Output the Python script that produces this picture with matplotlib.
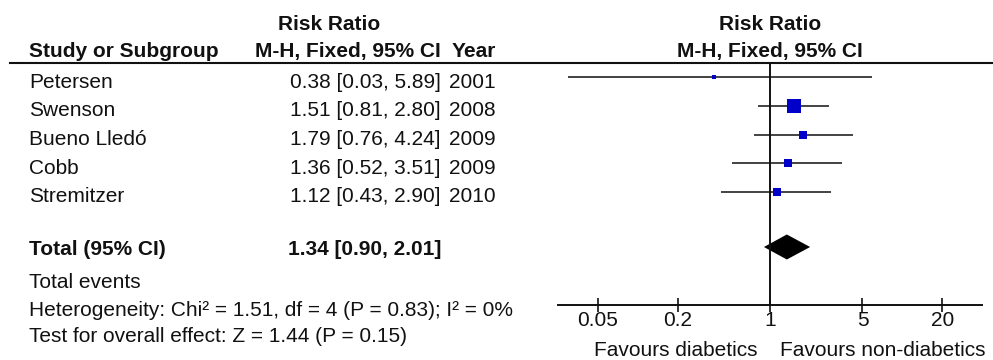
import numpy as np
import matplotlib
matplotlib.use("Agg")
import matplotlib.pyplot as plt
from matplotlib.transforms import blended_transform_factory
from matplotlib.lines import Line2D

# ---- data ----
studies = ["Petersen", "Swenson", "Bueno Lledó", "Cobb", "Stremitzer"]
years = ["2001", "2008", "2009", "2009", "2010"]
rr = [0.38, 1.51, 1.79, 1.36, 1.12]
ci_low = [0.03, 0.81, 0.76, 0.52, 0.43]
ci_high = [5.89, 2.80, 4.24, 3.51, 2.90]
weights = [4, 48, 17, 16, 15]          # relative weights (square sizes)
total_rr = 1.34
total_low = 0.90
total_high = 2.01
tick_values = [0.05, 0.2, 1, 5, 20]
tick_labels = ["0.05", "0.2", "1", "5", "20"]
heterogeneity = "Heterogeneity: Chi² = 1.51, df = 4 (P = 0.83); I² = 0%"
overall = "Test for overall effect: Z = 1.44 (P = 0.15)"

plt.rcParams['font.family'] = ['Liberation Sans', 'DejaVu Sans']
FS = 15
INK = '#111111'
BLUE = '#0000c8'

W, H = 993, 360
fig = plt.figure(figsize=(W / 100, H / 100), dpi=100)
ax = fig.add_axes([558 / W, 0, (982 - 558) / W, 1])
ax.set_xscale('log')
ax.set_xlim(0.025, 40)
ax.set_ylim(H, 0)   # y in pixel rows, top = 0

row_y = 77 + 28.75 * np.arange(len(studies))
total_y = 247
axis_y = 305
line_y = 63

# study CIs and squares
for y, m, lo, hi, w in zip(row_y, rr, ci_low, ci_high, weights):
    ax.plot([lo, hi], [y, y], color=INK, lw=1.1, solid_capstyle='butt')
    side = 2.0 * np.sqrt(w) * 0.72
    ax.plot(m, y, marker='s', ms=side, color=BLUE, mec=BLUE, mew=0)

# pooled diamond
dh = 12.5
ax.fill([total_low, total_rr, total_high, total_rr],
        [total_y, total_y - dh, total_y, total_y + dh], color='black', lw=0)

# line of no effect
ax.plot([1, 1], [line_y, axis_y], color=INK, lw=1.4)

# bottom axis
for s in ['top', 'left', 'right']:
    ax.spines[s].set_visible(False)
ax.spines['bottom'].set_position(('data', axis_y))
ax.spines['bottom'].set_linewidth(1.4)
ax.spines['bottom'].set_color(INK)
ax.set_yticks([])
ax.set_xticks(tick_values)
ax.set_xticklabels(tick_labels)
ax.xaxis.set_minor_locator(matplotlib.ticker.NullLocator())
ax.tick_params(axis='x', direction='inout', length=10, width=1.2, color=INK,
               labelsize=FS, labelcolor=INK, pad=-0.5)
ax.patch.set_visible(False)

trans = blended_transform_factory(fig.transFigure, ax.transData)

def put(xpx, ypx, s, ha='left', bold=False):
    ax.text(xpx / W, ypx, s, transform=trans, ha=ha, va='baseline',
            fontsize=FS, color=INK, fontweight='bold' if bold else 'normal',
            clip_on=False)

# header
put(329, 29.5, "Risk Ratio", ha='center', bold=True)
put(29, 57, "Study or Subgroup", bold=True)
put(441, 57, "M-H, Fixed, 95% CI", ha='right', bold=True)
put(496, 57, "Year", ha='right', bold=True)
put(770, 29.5, "Risk Ratio", ha='center', bold=True)
put(770, 57, "M-H, Fixed, 95% CI", ha='center', bold=True)
fig.add_artist(Line2D([10 / W, 1], [line_y, line_y], transform=trans,
                      color=INK, lw=1.5))

# study rows
for y, name, m, lo, hi, yr in zip(row_y, studies, rr, ci_low, ci_high, years):
    put(29, y + 10.5, name)
    put(441, y + 10.5, f"{m:.2f} [{lo:.2f}, {hi:.2f}]", ha='right')
    put(496, y + 10.5, yr, ha='right')

put(29, 255, "Total (95% CI)", bold=True)
put(441, 255, f"{total_rr:.2f} [{total_low:.2f}, {total_high:.2f}]",
    ha='right', bold=True)
put(29, 288, "Total events")
put(29, 316, heterogeneity)
put(29, 342, overall)

put(758, 356, "Favours diabetics", ha='right')
put(780, 356, "Favours non-diabetics")

fig.savefig("out.png", dpi=100)
